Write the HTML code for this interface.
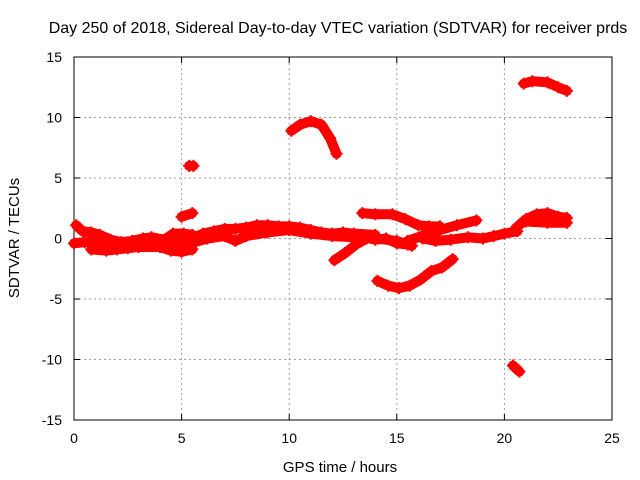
<!DOCTYPE html>
<html><head><meta charset="utf-8"><style>
body{margin:0;background:#fff;}
svg{display:block;font-family:"Liberation Sans",sans-serif;}
</style></head><body>
<svg id="chart" width="640" height="480">
<text x="338" y="33" text-anchor="middle" font-size="16">Day 250 of 2018, Sidereal Day-to-day VTEC variation (SDTVAR) for receiver prds</text>
<text x="340" y="472" text-anchor="middle" font-size="15">GPS time / hours</text>
<text transform="translate(19,238) rotate(-90)" text-anchor="middle" font-size="15">SDTVAR / TECUs</text>
<g id="grid"></g><g id="axes"></g><g id="series"></g>
</svg>
<script>
const xTicks=[0,5,10,15,20,25];
const yTicks=[-15,-10,-5,0,5,10,15];
const trackBandA=[[0,-0.4],[0.5,-0.3],[1,-0.3],[1.5,-0.5],[2,-0.6],[2.5,-0.5],[3,-0.4],[3.5,-0.2],[4,-0.3],[4.5,-0.4],[5,-0.3],[5.4,-0.5]];
const trackBandB=[[0.1,1.1],[0.4,0.6],[0.8,0.5],[1.2,0.3],[1.7,-0.1],[2.2,-0.3],[2.7,-0.2],[3.2,0],[3.6,0.1],[4.2,-0.1],[4.6,0.4],[5.1,0.4],[5.5,0.3]];
const trackBandC=[[0.8,-0.9],[1.5,-1.0],[2,-0.9],[2.5,-0.8],[3,-0.7],[4,-0.7],[4.5,-1.0],[5,-1.1],[5.5,-0.9]];
const trackMidUpper=[[5.6,0.1],[6,0.4],[6.5,0.6],[7,0.8],[7.5,0.8],[8,0.9],[8.5,1.1],[9,1.1],[9.5,1.0],[10,1.0],[10.5,0.9],[11,0.7],[11.5,0.5],[12,0.4],[12.5,0.5],[13,0.4],[14,0.3]];
const trackMidLower=[[5.6,-0.3],[6.2,0],[7,0.2],[7.5,-0.2],[8,0.2],[9,0.5],[10,0.7],[11,0.4],[12,0.2],[13,0.1],[14,0],[15,-0.2],[15.5,-0.5]];
const trackMid2=[[13.5,0.1],[14,-0.1],[14.5,0],[15,-0.4],[15.5,-0.5],[15.7,-0.6]];
const trackDrop=[[12.1,-1.8],[12.6,-1.2],[13.1,-0.5],[13.6,0]];
const trackHigh=[[13.4,2.1],[14,2.0],[14.8,2.0],[15.4,1.6],[16,1.1],[16.5,1.0],[17,1.0]];
const trackRise=[[15.5,-0.2],[16.3,0.3],[17,0.7],[17.8,1.1],[18.7,1.5]];
const trackLate=[[16.2,0],[16.8,-0.2],[17.5,-0.1],[18.3,0.1],[19,0],[19.5,0.2],[20,0.4],[20.6,0.6]];
const trackEndUp=[[20.5,0.8],[21,1.6],[21.5,2.0],[22,2.1],[22.5,1.8],[22.9,1.7]];
const trackEndLow=[[21,1.4],[22,1.3],[22.9,1.3]];
const trackArcLow=[[14.1,-3.5],[14.6,-3.9],[15.1,-4.1],[15.6,-3.9],[16.1,-3.4],[16.6,-2.7],[17.1,-2.4],[17.6,-1.7]];
const trackArcHigh=[[10.1,8.9],[10.5,9.4],[11,9.7],[11.5,9.4],[11.9,8.3],[12.2,7.0]];
const trackSpot6=[[5.35,6.0],[5.55,6.0]];
const trackSpot2=[[5.0,1.8],[5.5,2.1]];
const trackTopRight=[[20.9,12.8],[21.3,13.0],[22,12.9],[22.5,12.5],[22.9,12.2]];
const trackBottom=[[20.4,-10.5],[20.7,-11.0]];
const tracks=[trackBandA,trackBandB,trackBandC,trackMidUpper,trackMidLower,trackMid2,trackDrop,trackHigh,trackRise,trackLate,trackEndUp,trackEndLow,trackArcLow,trackArcHigh,trackSpot6,trackSpot2,trackTopRight,trackBottom];

const X0=74,X1=612,Y0=420,Y1=57;
const xs=v=>X0+(v-0)/25*(X1-X0);
const ys=v=>Y0-(v+15)/30*(Y0-Y1);
const NS="http://www.w3.org/2000/svg";
function mk(tag,attrs,parent){const e=document.createElementNS(NS,tag);for(const k in attrs)e.setAttribute(k,attrs[k]);parent.appendChild(e);return e;}
const grid=document.getElementById('grid'),axes=document.getElementById('axes'),series=document.getElementById('series');
xTicks.forEach(t=>{
  const x=xs(t);
  if(t>0&&t<25){const g=mk('line',{x1:x,y1:Y0,x2:x,y2:Y1,stroke:'#a0a0a0','stroke-dasharray':'2,3'},grid);
  
  }
  mk('line',{x1:x,y1:Y0,x2:x,y2:Y0-6,stroke:'#000'},axes);
  mk('line',{x1:x,y1:Y1,x2:x,y2:Y1+6,stroke:'#000'},axes);
  const l=mk('text',{x:x,y:443,'text-anchor':'middle','font-size':14},axes);l.textContent=t;
  
  
});
yTicks.forEach(t=>{
  const y=ys(t);
  if(t>-15&&t<15){const g=mk('line',{x1:X0,y1:y,x2:X1,y2:y,stroke:'#a0a0a0','stroke-dasharray':'2,3'},grid);
  
  }
  mk('line',{x1:X0,y1:y,x2:X0+6,y2:y,stroke:'#000'},axes);
  mk('line',{x1:X1,y1:y,x2:X1-6,y2:y,stroke:'#000'},axes);
  const l=mk('text',{x:62,y:y+5,'text-anchor':'end','font-size':14},axes);l.textContent=t;
  
  
});
const b=mk('rect',{x:X0,y:Y1,width:X1-X0,height:Y0-Y1,fill:'none',stroke:'#000'},axes);


tracks.forEach(tr=>{
  const pts=tr.map(p=>xs(p[0])+','+ys(p[1])).join(' ');
  const pl=mk('polyline',{points:pts,fill:'none',stroke:'#f00','stroke-width':10,'stroke-linecap':'round','stroke-linejoin':'round'},series);
  
  
  tr.forEach(p=>{
    const x=xs(p[0]),y=ys(p[1]);
    const m=mk('path',{d:`M${x-6},${y}H${x+6}M${x},${y-6}V${y+6}`,stroke:'#f00','stroke-width':2},series);
    
    
  });
});
</script>
</body></html>
